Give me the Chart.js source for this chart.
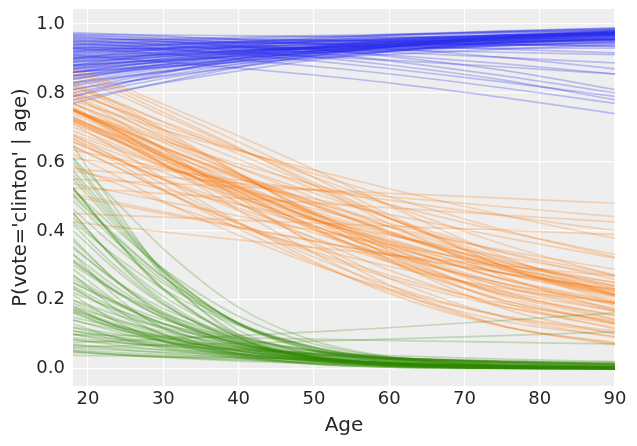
<!DOCTYPE html>
<html>
<head>
<meta charset="utf-8">
<script src="https://cdn.jsdelivr.net/npm/chart.js@4.4.1/dist/chart.umd.min.js"></script>
<style>
  html, body { margin: 0; padding: 0; background: #ffffff; }
  canvas { display: block; }
</style>
</head>
<body>
<canvas id="c" width="637" height="446" style="width:637px;height:446px"></canvas>
<script>
const ages = [18, 24, 30, 40, 50, 60, 75, 90];

// Axis ticks
const xTicks = [20, 30, 40, 50, 60, 70, 80, 90];
const yTicks = [0.0, 0.2, 0.4, 0.6, 0.8, 1.0];
const yTickLabels = ['0.0', '0.2', '0.4', '0.6', '0.8', '1.0'];

// Blue curves: P at the ages above
const blueLines = [
  [0.90,0.905,0.91,0.915,0.92,0.927,0.937,0.946],
  [0.88,0.888,0.895,0.905,0.915,0.924,0.937,0.948],
  [0.86,0.87,0.88,0.895,0.908,0.92,0.937,0.951],
  [0.85,0.862,0.874,0.892,0.908,0.922,0.942,0.958],
  [0.83,0.846,0.861,0.884,0.904,0.922,0.945,0.962],
  [0.81,0.83,0.848,0.876,0.90,0.921,0.947,0.966],
  [0.78,0.805,0.829,0.864,0.895,0.92,0.951,0.972],
  [0.80,0.826,0.85,0.884,0.913,0.936,0.962,0.979],
  [0.82,0.842,0.862,0.89,0.914,0.934,0.958,0.974],
  [0.87,0.882,0.893,0.909,0.923,0.935,0.951,0.963],
  [0.89,0.897,0.904,0.914,0.924,0.933,0.945,0.955],
  [0.91,0.914,0.918,0.925,0.931,0.937,0.946,0.954],
  [0.92,0.922,0.924,0.927,0.93,0.933,0.938,0.942],
  [0.93,0.93,0.93,0.93,0.93,0.93,0.93,0.93],
  [0.94,0.938,0.936,0.932,0.928,0.924,0.918,0.911],
  [0.95,0.946,0.942,0.935,0.927,0.918,0.903,0.887],
  [0.96,0.955,0.949,0.938,0.925,0.91,0.885,0.855],
  [0.97,0.964,0.957,0.944,0.927,0.906,0.866,0.81],
  [0.955,0.947,0.939,0.923,0.904,0.881,0.838,0.78],
  [0.91,0.90,0.89,0.872,0.852,0.829,0.787,0.74],
  [0.93,0.922,0.913,0.897,0.877,0.855,0.815,0.77],
  [0.945,0.937,0.928,0.912,0.893,0.871,0.832,0.79],
  [0.965,0.958,0.95,0.935,0.916,0.893,0.85,0.80],
  [0.935,0.93,0.925,0.916,0.906,0.895,0.876,0.855],
  [0.975,0.97,0.965,0.955,0.943,0.929,0.903,0.87],
  [0.96,0.957,0.954,0.949,0.943,0.937,0.927,0.916],
  [0.875,0.887,0.898,0.914,0.928,0.941,0.957,0.969],
  [0.84,0.858,0.875,0.899,0.919,0.936,0.956,0.97],
  [0.79,0.817,0.842,0.878,0.908,0.932,0.959,0.976],
  [0.86,0.876,0.891,0.912,0.93,0.945,0.963,0.976],
  [0.895,0.905,0.914,0.927,0.939,0.949,0.962,0.972],
  [0.905,0.913,0.92,0.932,0.942,0.951,0.963,0.972],
  [0.83,0.852,0.871,0.899,0.922,0.94,0.961,0.975],
  [0.77,0.802,0.831,0.874,0.908,0.935,0.964,0.98],
  [0.915,0.92,0.925,0.933,0.941,0.948,0.958,0.966],
  [0.885,0.895,0.905,0.92,0.933,0.944,0.958,0.969],
  [0.85,0.868,0.885,0.908,0.927,0.943,0.962,0.975],
  [0.81,0.836,0.86,0.893,0.92,0.94,0.963,0.978],
  [0.87,0.88,0.89,0.904,0.916,0.927,0.942,0.954],
  [0.925,0.927,0.929,0.932,0.935,0.938,0.942,0.946],
  [0.86,0.872,0.883,0.9,0.915,0.928,0.946,0.96],
  [0.89,0.9,0.91,0.923,0.935,0.946,0.96,0.97],
  [0.79,0.825,0.857,0.9,0.933,0.955,0.975,0.986],
  [0.94,0.945,0.95,0.957,0.963,0.968,0.975,0.98],
  [0.92,0.93,0.938,0.95,0.96,0.968,0.978,0.985],
  [0.95,0.953,0.956,0.961,0.966,0.97,0.977,0.982],
  [0.97,0.969,0.968,0.966,0.964,0.962,0.959,0.956],
  [0.90,0.915,0.928,0.945,0.958,0.969,0.98,0.988],
  [0.88,0.898,0.914,0.935,0.952,0.965,0.979,0.988],
  [0.87,0.885,0.898,0.917,0.933,0.946,0.962,0.974],
  [0.90,0.91,0.919,0.932,0.944,0.954,0.966,0.975],
  [0.92,0.926,0.932,0.941,0.949,0.956,0.966,0.974],
  [0.93,0.935,0.94,0.947,0.954,0.96,0.968,0.975],
  [0.935,0.939,0.943,0.949,0.955,0.96,0.967,0.973],
  [0.88,0.893,0.905,0.922,0.937,0.95,0.966,0.978],
  [0.86,0.877,0.893,0.915,0.934,0.949,0.968,0.981],
  [0.84,0.862,0.882,0.91,0.932,0.95,0.97,0.983],
  [0.91,0.918,0.926,0.938,0.948,0.957,0.968,0.977],
  [0.895,0.903,0.911,0.922,0.932,0.941,0.953,0.963],
  [0.905,0.91,0.915,0.923,0.93,0.937,0.946,0.955],
  [0.925,0.928,0.931,0.936,0.94,0.944,0.95,0.956],
  [0.945,0.946,0.947,0.949,0.951,0.953,0.956,0.959],
  [0.955,0.955,0.955,0.954,0.953,0.952,0.951,0.95],
  [0.94,0.941,0.942,0.944,0.946,0.948,0.951,0.954],
  [0.865,0.878,0.89,0.907,0.922,0.935,0.952,0.965],
  [0.845,0.861,0.876,0.898,0.917,0.933,0.953,0.968],
  [0.825,0.846,0.865,0.892,0.915,0.934,0.957,0.972],
  [0.875,0.888,0.9,0.917,0.931,0.943,0.958,0.97],
  [0.915,0.922,0.929,0.939,0.948,0.956,0.966,0.974],
  [0.90,0.906,0.912,0.921,0.929,0.937,0.947,0.956],
  [0.88,0.888,0.896,0.909,0.921,0.932,0.946,0.958],
  [0.95,0.949,0.948,0.946,0.944,0.942,0.939,0.936],
  [0.965,0.963,0.961,0.957,0.953,0.949,0.942,0.935],
  [0.93,0.934,0.938,0.944,0.95,0.955,0.962,0.968],
  [0.86,0.868,0.876,0.889,0.901,0.912,0.927,0.94],
  [0.89,0.899,0.907,0.92,0.931,0.941,0.954,0.965],
  [0.85,0.866,0.881,0.903,0.922,0.938,0.957,0.971]
];

// Orange curves
const orangeLines = [
  [0.731,0.674,0.614,0.522,0.438,0.36,0.261,0.19],
  [0.802,0.751,0.694,0.607,0.521,0.436,0.321,0.231],
  [0.646,0.582,0.516,0.419,0.335,0.263,0.181,0.13],
  [0.769,0.706,0.638,0.53,0.427,0.331,0.216,0.142],
  [0.69,0.64,0.588,0.515,0.449,0.389,0.311,0.25],
  [0.832,0.768,0.694,0.568,0.438,0.316,0.176,0.10],
  [0.574,0.548,0.521,0.476,0.431,0.387,0.325,0.269],
  [0.858,0.805,0.744,0.641,0.532,0.42,0.27,0.168],
  [0.711,0.635,0.552,0.425,0.312,0.218,0.123,0.076],
  [0.75,0.706,0.66,0.594,0.534,0.477,0.399,0.332],
  [0.61,0.594,0.576,0.547,0.518,0.489,0.444,0.401],
  [0.426,0.411,0.397,0.374,0.352,0.33,0.299,0.269],
  [0.55,0.544,0.538,0.528,0.519,0.509,0.495,0.48],
  [0.786,0.732,0.674,0.583,0.496,0.411,0.299,0.214],
  [0.668,0.61,0.548,0.459,0.38,0.31,0.226,0.168],
  [0.818,0.769,0.717,0.636,0.556,0.476,0.362,0.269],
  [0.622,0.556,0.486,0.387,0.302,0.231,0.154,0.109],
  [0.731,0.664,0.592,0.48,0.378,0.286,0.182,0.119],
  [0.701,0.647,0.59,0.508,0.434,0.366,0.279,0.214],
  [0.769,0.719,0.665,0.585,0.51,0.437,0.338,0.259],
  [0.721,0.66,0.594,0.495,0.403,0.321,0.221,0.154],
  [0.846,0.794,0.735,0.639,0.54,0.438,0.30,0.198],
  [0.525,0.517,0.508,0.494,0.481,0.467,0.446,0.426],
  [0.794,0.72,0.636,0.495,0.36,0.243,0.125,0.069],
  [0.679,0.634,0.586,0.521,0.464,0.412,0.344,0.289],
  [0.741,0.682,0.619,0.523,0.434,0.351,0.247,0.175],
  [0.657,0.605,0.552,0.477,0.412,0.352,0.278,0.223],
  [0.81,0.749,0.679,0.565,0.451,0.342,0.211,0.13],
  [0.587,0.535,0.482,0.41,0.35,0.297,0.234,0.19],
  [0.777,0.736,0.693,0.632,0.576,0.522,0.446,0.378],
  [0.711,0.66,0.606,0.528,0.457,0.392,0.307,0.241],
  [0.759,0.688,0.61,0.483,0.366,0.262,0.151,0.091],
  [0.634,0.609,0.582,0.538,0.493,0.448,0.382,0.321],
  [0.87,0.822,0.767,0.675,0.578,0.473,0.327,0.214],
  [0.5,0.475,0.45,0.409,0.37,0.332,0.279,0.231],
  [0.45,0.445,0.44,0.431,0.423,0.414,0.402,0.389],
  [0.75,0.69,0.626,0.526,0.433,0.346,0.239,0.166],
  [0.746,0.695,0.641,0.561,0.485,0.413,0.316,0.24],
  [0.716,0.657,0.595,0.501,0.416,0.337,0.24,0.172],
  [0.75,0.689,0.621,0.514,0.409,0.313,0.201,0.134],
  [0.795,0.735,0.668,0.561,0.455,0.353,0.226,0.144],
  [0.726,0.677,0.625,0.551,0.484,0.422,0.339,0.273],
  [0.77,0.715,0.656,0.566,0.48,0.399,0.292,0.212],
  [0.755,0.701,0.642,0.554,0.472,0.394,0.293,0.217],
  [0.752,0.70,0.644,0.558,0.476,0.395,0.289,0.211],
  [0.753,0.69,0.621,0.512,0.409,0.318,0.216,0.155],
  [0.722,0.672,0.616,0.532,0.452,0.378,0.287,0.226],
  [0.719,0.661,0.598,0.502,0.415,0.337,0.248,0.19],
  [0.667,0.596,0.519,0.406,0.307,0.225,0.139,0.093],
  [0.679,0.609,0.534,0.422,0.324,0.241,0.152,0.103],
  [0.659,0.605,0.548,0.466,0.394,0.329,0.248,0.19],
  [0.537,0.512,0.486,0.443,0.401,0.36,0.302,0.25],
  [0.864,0.814,0.756,0.658,0.555,0.447,0.299,0.191],
  [0.824,0.773,0.715,0.623,0.531,0.437,0.311,0.215],
  [0.798,0.753,0.705,0.634,0.566,0.499,0.404,0.324],
  [0.75,0.685,0.615,0.505,0.403,0.309,0.199,0.131],
  [0.754,0.696,0.634,0.539,0.45,0.366,0.26,0.184],
  [0.674,0.623,0.57,0.496,0.431,0.371,0.295,0.237],
  [0.645,0.583,0.517,0.423,0.341,0.271,0.19,0.139],
  [0.721,0.665,0.605,0.516,0.434,0.359,0.263,0.195],
  [0.507,0.481,0.455,0.412,0.371,0.331,0.277,0.23],
  [0.821,0.759,0.687,0.567,0.445,0.329,0.194,0.115],
  [0.753,0.678,0.594,0.46,0.336,0.231,0.124,0.073],
  [0.58,0.569,0.557,0.538,0.519,0.499,0.47,0.441],
  [0.75,0.697,0.64,0.554,0.474,0.399,0.30,0.225],
  [0.726,0.671,0.613,0.526,0.446,0.372,0.277,0.208]
];

// Green curves
const greenLines = [
  [0.6,0.43,0.27,0.10,0.035,0.011,0.002,0.0003],
  [0.45,0.31,0.198,0.083,0.032,0.012,0.0027,0.0006],
  [0.354,0.248,0.165,0.078,0.035,0.015,0.0043,0.0012],
  [0.269,0.19,0.13,0.066,0.032,0.0155,0.005,0.0017],
  [0.198,0.143,0.102,0.056,0.030,0.016,0.006,0.0023],
  [0.142,0.106,0.079,0.047,0.028,0.016,0.007,0.0031],
  [0.10,0.078,0.061,0.039,0.026,0.016,0.0084,0.0043],
  [0.069,0.057,0.046,0.033,0.024,0.017,0.01,0.006],
  [0.047,0.041,0.036,0.028,0.022,0.017,0.012,0.008],
  [0.646,0.455,0.277,0.094,0.028,0.0077,0.0011,0.0002],
  [0.525,0.364,0.228,0.089,0.032,0.011,0.0021,0.0004],
  [0.401,0.281,0.185,0.085,0.036,0.015,0.004,0.001],
  [0.31,0.218,0.147,0.072,0.034,0.015,0.0047,0.0014],
  [0.231,0.165,0.115,0.061,0.031,0.0157,0.0055,0.002],
  [0.168,0.123,0.089,0.051,0.029,0.016,0.0066,0.0027],
  [0.119,0.091,0.069,0.043,0.027,0.016,0.0078,0.0037],
  [0.55,0.409,0.281,0.131,0.055,0.022,0.0054,0.0013],
  [0.426,0.321,0.231,0.125,0.063,0.031,0.010,0.0033],
  [0.5,0.375,0.265,0.134,0.062,0.027,0.0078,0.0022],
  [0.378,0.25,0.154,0.063,0.024,0.009,0.002,0.0005],
  [0.182,0.121,0.079,0.037,0.017,0.0077,0.0023,0.0007],
  [0.289,0.192,0.121,0.053,0.022,0.0092,0.0024,0.0006],
  [0.083,0.074,0.067,0.055,0.046,0.038,0.028,0.021],
  [0.076,0.081,0.086,0.096,0.107,0.119,0.14,0.162],
  [0.10,0.097,0.094,0.090,0.086,0.082,0.077,0.072],
  [0.039,0.037,0.035,0.032,0.029,0.026,0.022,0.019],
  [0.574,0.426,0.289,0.13,0.052,0.02,0.0045,0.001],
  [0.25,0.184,0.132,0.074,0.04,0.021,0.008,0.003],
  [0.13,0.089,0.061,0.031,0.016,0.0078,0.0028,0.001],
  [0.332,0.204,0.117,0.042,0.0145,0.0049,0.0009,0.0002],
  [0.052,0.041,0.033,0.022,0.015,0.010,0.0056,0.0031],
  [0.214,0.134,0.08,0.033,0.013,0.005,0.0012,0.0003],
  [0.611,0.478,0.348,0.178,0.081,0.035,0.0092,0.0024],
  [0.063,0.066,0.069,0.074,0.080,0.086,0.096,0.107],
  [0.525,0.37,0.234,0.092,0.034,0.012,0.0024,0.0005],
  [0.312,0.219,0.148,0.072,0.034,0.015,0.0047,0.0015],
  [0.17,0.125,0.091,0.052,0.029,0.016,0.0065,0.0027],
  [0.085,0.068,0.054,0.036,0.025,0.017,0.0092,0.0052],
  [0.524,0.368,0.231,0.09,0.032,0.011,0.0026,0.0006],
  [0.418,0.291,0.188,0.081,0.033,0.013,0.0034,0.0009],
  [0.316,0.223,0.15,0.073,0.034,0.015,0.0048,0.0015],
  [0.239,0.171,0.118,0.062,0.032,0.016,0.0057,0.002],
  [0.175,0.128,0.092,0.052,0.029,0.016,0.0067,0.0029],
  [0.488,0.365,0.256,0.128,0.059,0.027,0.0077,0.0023],
  [0.463,0.348,0.248,0.13,0.063,0.029,0.0089,0.0028],
  [0.439,0.313,0.21,0.099,0.043,0.018,0.0049,0.0014],
  [0.236,0.157,0.10,0.045,0.02,0.0085,0.0024,0.0007],
  [0.562,0.418,0.285,0.131,0.054,0.021,0.005,0.0012],
  [0.19,0.137,0.097,0.053,0.028,0.014,0.0054,0.002],
  [0.273,0.169,0.099,0.038,0.014,0.005,0.001,0.0003],
  [0.519,0.40,0.29,0.152,0.072,0.033,0.0096,0.0029],
  [0.26,0.187,0.131,0.07,0.036,0.018,0.0065,0.0024],
  [0.164,0.116,0.082,0.044,0.023,0.012,0.0044,0.0017],
  [0.162,0.114,0.079,0.042,0.023,0.012,0.0047,0.0019],
  [0.37,0.251,0.16,0.068,0.027,0.011,0.0026,0.0006],
  [0.332,0.233,0.156,0.075,0.035,0.015,0.0045,0.0013],
  [0.05,0.041,0.035,0.025,0.019,0.014,0.009,0.0056],
  [0.054,0.047,0.041,0.033,0.027,0.022,0.016,0.013],
  [0.61,0.44,0.283,0.112,0.04,0.014,0.0028,0.0006],
  [0.452,0.307,0.191,0.076,0.028,0.01,0.0021,0.0005],
  [0.11,0.085,0.065,0.041,0.027,0.016,0.0081,0.004],
  [0.175,0.122,0.084,0.044,0.023,0.012,0.0045,0.0017],
  [0.506,0.38,0.267,0.132,0.059,0.025,0.0066,0.0017],
  [0.15,0.12,0.095,0.065,0.045,0.032,0.02,0.013],
  [0.12,0.10,0.082,0.06,0.043,0.031,0.02,0.013],
  [0.20,0.155,0.12,0.077,0.05,0.033,0.018,0.01],
  [0.09,0.077,0.066,0.051,0.039,0.03,0.021,0.014],
  [0.25,0.19,0.142,0.088,0.054,0.033,0.016,0.008],
  [0.07,0.062,0.055,0.045,0.037,0.03,0.022,0.016],
  [0.18,0.14,0.108,0.07,0.045,0.029,0.015,0.008],
  [0.11,0.092,0.077,0.057,0.042,0.031,0.02,0.013],
  [0.30,0.22,0.16,0.092,0.052,0.03,0.013,0.006],
  [0.14,0.113,0.09,0.062,0.042,0.028,0.016,0.009],
  [0.06,0.054,0.048,0.04,0.033,0.027,0.02,0.015],
  [0.35,0.25,0.175,0.095,0.051,0.027,0.011,0.0045],
  [0.22,0.17,0.13,0.083,0.052,0.033,0.017,0.009],
  [0.10,0.085,0.072,0.055,0.042,0.032,0.022,0.015]
];

const COLORS = {
  blue: 'rgba(42,46,236,0.27)',
  orange: 'rgba(250,124,23,0.27)',
  green: 'rgba(50,140,6,0.24)'
};

function toDatasets(lines, color) {
  return lines.map(vals => ({
    data: vals.map((v, i) => ({ x: ages[i], y: v })),
    borderColor: color,
    borderWidth: 1.7,
    pointRadius: 0,
    fill: false,
    cubicInterpolationMode: 'monotone'
  }));
}

// Chart.js draws dataset 0 last (on top); green on top, blue at the bottom
const datasets = [].concat(
  toDatasets(greenLines, COLORS.green),
  toDatasets(orangeLines, COLORS.orange),
  toDatasets(blueLines, COLORS.blue)
);

const bgPlugin = {
  id: 'bg',
  beforeDraw(chart) {
    const { ctx, chartArea: a } = chart;
    ctx.save();
    ctx.fillStyle = '#eeeeee';
    ctx.fillRect(a.left, a.top, a.right - a.left, a.bottom - a.top);
    ctx.restore();
  }
};

const FONT = 'DejaVu Sans';
const TEXT = '#262626';

new Chart(document.getElementById('c').getContext('2d'), {
  type: 'line',
  data: { datasets },
  options: {
    responsive: false,
    animation: false,
    events: [],
    layout: { padding: { top: 9, right: 22, left: 0, bottom: 0 } },
    plugins: { legend: { display: false }, tooltip: { enabled: false } },
    scales: {
      x: {
        type: 'linear',
        min: 18, max: 90,
        afterBuildTicks: s => { s.ticks = xTicks.map(v => ({ value: v })); },
        afterFit: s => { s.height = 60; s.paddingLeft = 0; s.paddingRight = 0; },
        grid: { color: '#ffffff', lineWidth: 1.2, drawTicks: false },
        border: { display: false },
        ticks: {
          padding: 3,
          font: { family: FONT, size: 18 },
          color: TEXT,
          callback: v => String(v)
        },
        title: {
          display: true, text: 'Age',
          font: { family: FONT, size: 20 }, color: TEXT,
          padding: { top: 0, bottom: 8 }
        }
      },
      y: {
        type: 'linear',
        min: -0.05, max: 1.0435,
        afterBuildTicks: s => { s.ticks = yTicks.map(v => ({ value: v })); },
        afterFit: s => { s.width = 73; s.paddingTop = 0; s.paddingBottom = 0; },
        grid: { color: '#ffffff', lineWidth: 1.2, drawTicks: false },
        border: { display: false },
        ticks: {
          padding: 8,
          font: { family: FONT, size: 18 },
          color: TEXT,
          callback: v => yTickLabels[yTicks.findIndex(t => Math.abs(t - v) < 1e-9)]
        },
        title: {
          display: true, text: "P(vote='clinton' | age)",
          font: { family: FONT, size: 19.5 }, color: TEXT,
          padding: { top: 9, bottom: 0 }
        }
      }
    }
  },
  plugins: [bgPlugin]
});
</script>
</body>
</html>
